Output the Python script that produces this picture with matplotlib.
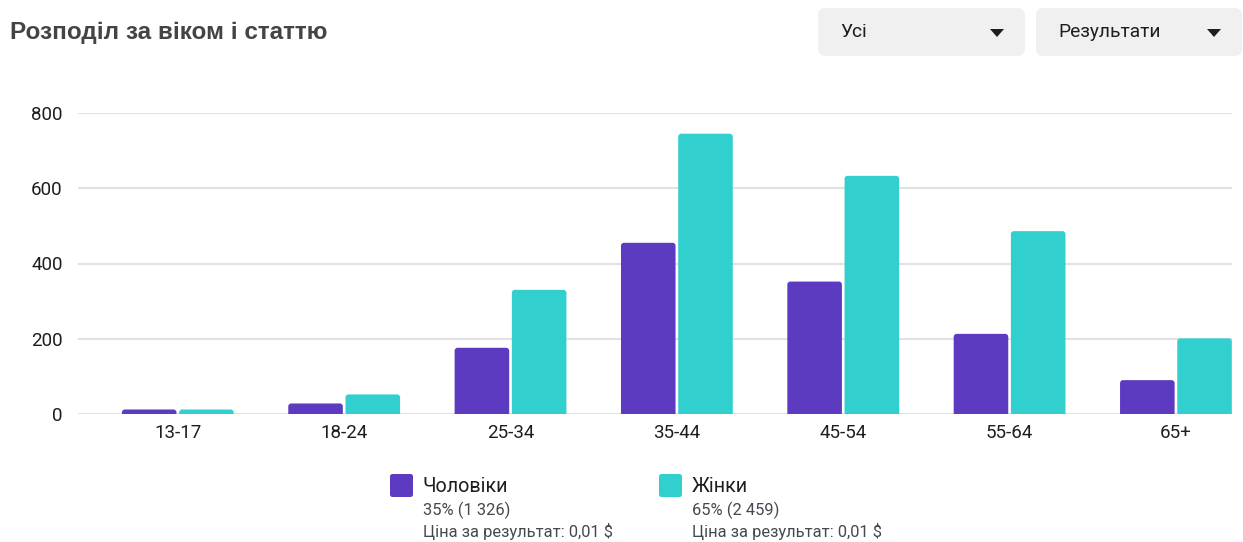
import matplotlib.pyplot as plt
from matplotlib.patches import FancyBboxPatch, Polygon
import numpy as np

# age groups and result counts per gender
age_groups = ["13-17", "18-24", "25-34", "35-44", "45-54", "55-64", "65+"]
men = [12, 28, 176, 455, 352, 213, 90]
women = [12, 52, 330, 745, 633, 486, 201]
y_ticks = [0, 200, 400, 600, 800]

men_color = "#5c3bc0"
women_color = "#32cfcf"
text_color = "#1c1e21"

W, H = 1243, 542
fig = plt.figure(figsize=(W / 100, H / 100), dpi=100)
fig.patch.set_facecolor("white")
plt.rcParams["font.family"] = ["Roboto", "DejaVu Sans"]

ax = fig.add_axes([78 / W, 1 - 414 / H, (1232 - 78) / W, (414 - 113) / H])
x = np.arange(len(age_groups))
bw = 0.328
off = 0.172
xlim = (-0.6, 6.337)
ylim = (0, 800)
ax.set_xlim(*xlim)
ax.set_ylim(*ylim)

# bars with slightly rounded tops
px_x = (1232 - 78) / (xlim[1] - xlim[0])
px_y = (414 - 113) / (ylim[1] - ylim[0])
r = 3 / px_x
aspect = px_x / px_y
for vals, shift, color in [(men, -off, men_color), (women, off, women_color)]:
    for xi, v in zip(x, vals):
        p = FancyBboxPatch((xi + shift - bw / 2, -20), bw, v + 20,
                           boxstyle=f"round,pad=0,rounding_size={r}",
                           mutation_aspect=aspect, facecolor=color,
                           edgecolor="none", zorder=3)
        ax.add_patch(p)

ax.set_yticks(y_ticks)
ax.set_xticks(x)
ax.set_xticklabels(age_groups)
ax.tick_params(axis="both", length=0, labelsize=13.5, colors=text_color)
ax.tick_params(axis="y", pad=11)
ax.tick_params(axis="x", pad=7)
ax.grid(axis="y", color="#e2e2e2", linewidth=1.5, zorder=0)
ax.set_axisbelow(True)
for s in ax.spines.values():
    s.set_visible(False)

# title
fig.text(10 / W, 1 - 32 / H, "Розподіл за віком і статтю", fontsize=17.5, fontweight="bold",
         color="#444444", va="center", ha="left", family=["Liberation Sans", "DejaVu Sans"])

# dropdown boxes in the header
def dropdown(x0, x1, label):
    box = FancyBboxPatch((x0 / W, 1 - 56 / H), (x1 - x0) / W, 48 / H,
                         boxstyle="round,pad=0,rounding_size=0.006",
                         transform=fig.transFigure, facecolor="#f0f0f0", edgecolor="none",
                         mutation_aspect=W / H)
    fig.patches.append(box)
    fig.text((x0 + 22) / W, 1 - 32 / H, label, fontsize=13.8, color=text_color,
             va="center", ha="left")
    cx = x1 - 28
    tri = Polygon([((cx - 7) / W, 1 - 29 / H), ((cx + 7) / W, 1 - 29 / H), (cx / W, 1 - 37 / H)],
                  closed=True, transform=fig.transFigure, facecolor=text_color, edgecolor="none")
    fig.patches.append(tri)

dropdown(818, 1025, "Усі")
dropdown(1036, 1242, "Результати")

# legend entries
def legend_entry(x0, color, name, share, cost):
    sq = FancyBboxPatch((x0 / W, 1 - 497 / H), 23 / W, 23 / H,
                        boxstyle="round,pad=0,rounding_size=0.002",
                        transform=fig.transFigure, facecolor=color, edgecolor="none",
                        mutation_aspect=W / H)
    fig.patches.append(sq)
    tx = (x0 + 33) / W
    fig.text(tx, 1 - 486 / H, name, fontsize=14.2, color=text_color, va="center", ha="left")
    fig.text(tx, 1 - 510 / H, share, fontsize=11.9, color="#444950", va="center", ha="left")
    fig.text(tx, 1 - 532 / H, cost, fontsize=11.9, color="#444950", va="center", ha="left")

legend_entry(390, men_color, "Чоловіки", "35% (1 326)", "Ціна за результат: 0,01 $")
legend_entry(659, women_color, "Жінки", "65% (2 459)", "Ціна за результат: 0,01 $")

fig.savefig("out.png", dpi=100)
